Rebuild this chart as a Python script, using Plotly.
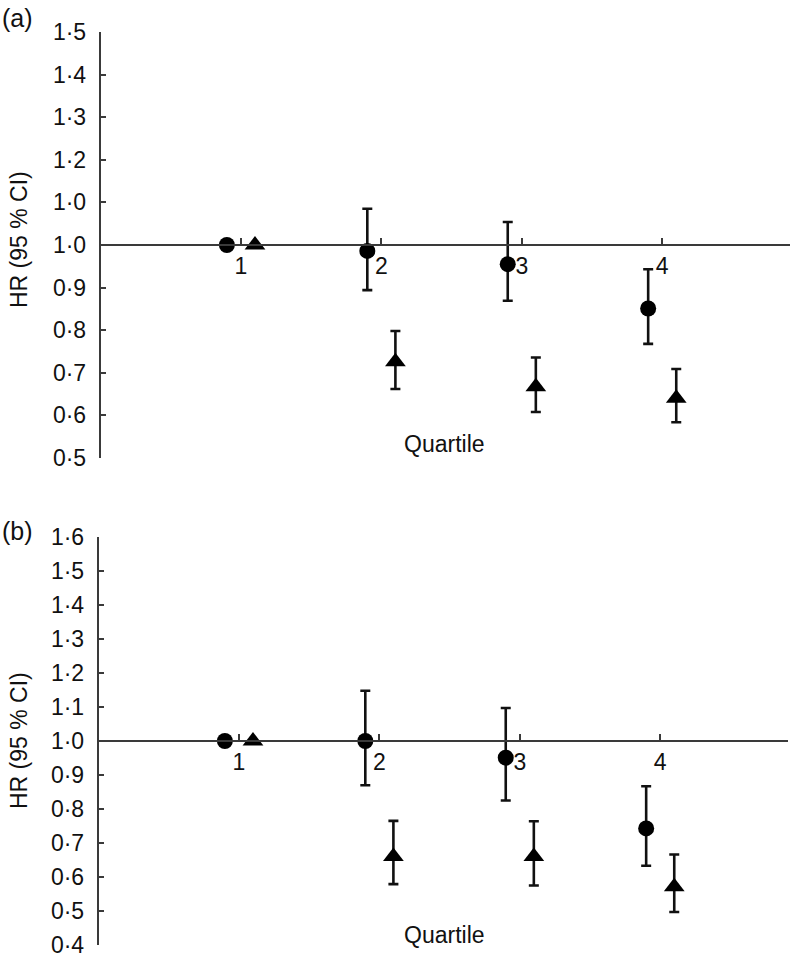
import numpy as np
import plotly.graph_objects as go

W, H = 791, 958

# quartiles on x
quartiles = [1, 2, 3, 4]

# panel (a): HR and 95% CI, circles and triangles
a_circle_hr = [1.00, 0.986, 0.955, 0.851]
a_circle_lo = [None, 0.894, 0.869, 0.768]
a_circle_hi = [None, 1.085, 1.054, 0.943]
a_tri_hr = [1.00, 0.726, 0.667, 0.640]
a_tri_lo = [None, 0.662, 0.608, 0.584]
a_tri_hi = [None, 0.798, 0.736, 0.709]

# panel (b)
b_circle_hr = [1.00, 1.00, 0.951, 0.743]
b_circle_lo = [None, 0.870, 0.825, 0.633]
b_circle_hi = [None, 1.148, 1.097, 0.867]
b_tri_hr = [1.00, 0.660, 0.660, 0.571]
b_tri_lo = [None, 0.579, 0.575, 0.497]
b_tri_hi = [None, 0.765, 0.764, 0.666]

# y tick labels as printed (panel a repeats "1·0")
a_yticks = [0.5, 0.6, 0.7, 0.8, 0.9, 1.0, 1.1, 1.2, 1.3, 1.4, 1.5]
a_ylabels = ["0·5", "0·6", "0·7", "0·8", "0·9", "1·0", "1·0", "1·2", "1·3", "1·4", "1·5"]
b_yticks = [0.4, 0.5, 0.6, 0.7, 0.8, 0.9, 1.0, 1.1, 1.2, 1.3, 1.4, 1.5, 1.6]
b_ylabels = ["0·4", "0·5", "0·6", "0·7", "0·8", "0·9", "1·0", "1·1", "1·2", "1·3", "1·4", "1·5", "1·6"]
x_labels = ["1", "2", "3", "4"]

FONT = "Liberation Sans, Arial, Helvetica, sans-serif"
INK = "#111111"
AXIS = "#3a3a3a"
DODGE = 0.1
XMAX = 4.91


def px(x):
    return x / W


def py(y):
    return 1 - y / H


def err(hr, lo, hi):
    up = [None if h is None else h - v for v, h in zip(hr, hi)]
    dn = [None if l is None else v - l for v, l in zip(hr, lo)]
    return dict(type="data", symmetric=False, array=up, arrayminus=dn,
                color="#111111", thickness=2.6, width=5)


fig = go.Figure()

panels = [
    dict(tag="(a)", xs="", yr=[0.5, 1.5], top=32, bot=458, left=100.5, right=790,
         yt=a_yticks, yl=a_ylabels,
         c=(a_circle_hr, a_circle_lo, a_circle_hi), t=(a_tri_hr, a_tri_lo, a_tri_hi),
         label_xy=(17, 18), title_y=240, q_y=444),
    dict(tag="(b)", xs="2", yr=[0.4, 1.6], top=537, bot=945, left=98.5, right=788,
         yt=b_yticks, yl=b_ylabels,
         c=(b_circle_hr, b_circle_lo, b_circle_hi), t=(b_tri_hr, b_tri_lo, b_tri_hi),
         label_xy=(17, 531), title_y=741, q_y=935),
]

annotations = []
for p in panels:
    xa, ya = "x" + p["xs"], "y" + p["xs"]
    ch, clo, chi = p["c"]
    th, tlo, thi = p["t"]
    fig.add_trace(go.Scatter(
        x=[q - DODGE for q in quartiles], y=ch, xaxis=xa, yaxis=ya, mode="markers",
        marker=dict(symbol="circle", size=16, color="black"),
        error_y=err(ch, clo, chi), showlegend=False, cliponaxis=False,
    ))
    fig.add_trace(go.Scatter(
        x=[q + DODGE for q in quartiles], y=th, xaxis=xa, yaxis=ya, mode="markers",
        marker=dict(symbol="triangle-up", size=18, color="black"),
        error_y=err(th, tlo, thi), showlegend=False, cliponaxis=False,
    ))

    y0 = py(p["bot"])
    y1 = py(p["top"])
    # x axis crosses at HR = 1
    ypos = y0 + (1.0 - p["yr"][0]) / (p["yr"][1] - p["yr"][0]) * (y1 - y0)
    xkey = "xaxis" + p["xs"]
    ykey = "yaxis" + p["xs"]
    fig.update_layout(**{
        xkey: dict(
            domain=[px(p["left"]), px(p["right"])], range=[0, XMAX],
            anchor="free", position=ypos, automargin=False,
            tickvals=quartiles + [XMAX], ticktext=x_labels + [""],
            ticks="inside", ticklen=6, tickwidth=1.5, tickcolor=AXIS,
            showline=True, linecolor=AXIS, linewidth=2,
            showgrid=False, zeroline=False, ticklabelstandoff=0,
            tickfont=dict(family=FONT, size=23, color=INK),
        ),
        ykey: dict(
            domain=[y0, y1], range=p["yr"], anchor=xa, automargin=False,
            tickvals=p["yt"], ticktext=p["yl"], ticklabeloverflow="allow",
            ticks="inside", ticklen=6, tickwidth=1.5, tickcolor=AXIS,
            showline=True, linecolor=AXIS, linewidth=1.5,
            showgrid=False, zeroline=False, ticklabelstandoff=8,
            tickfont=dict(family=FONT, size=23, color=INK),
        ),
    })

    lx, ly = p["label_xy"]
    annotations += [
        dict(text=p["tag"], x=px(lx), y=py(ly), xref="paper", yref="paper",
             xanchor="center", yanchor="middle", showarrow=False,
             font=dict(family=FONT, size=25, color=INK)),
        dict(text="HR (95 % CI)", x=px(19), y=py(p["title_y"]),
             xref="paper", yref="paper", textangle=-90,
             xanchor="center", yanchor="middle", showarrow=False,
             font=dict(family=FONT, size=23, color=INK)),
        dict(text="Quartile", x=px(444), y=py(p["q_y"]),
             xref="paper", yref="paper", xanchor="center", yanchor="middle",
             showarrow=False, font=dict(family=FONT, size=23, color=INK)),
    ]

fig.update_layout(
    width=W, height=H,
    margin=dict(l=0, r=0, t=0, b=0),
    paper_bgcolor="white", plot_bgcolor="white",
    annotations=annotations,
)

# drop the default page margin so the figure fills the window
fig.write_html("out.html", config={"displayModeBar": False},
               post_script="document.body.style.margin='0';")
